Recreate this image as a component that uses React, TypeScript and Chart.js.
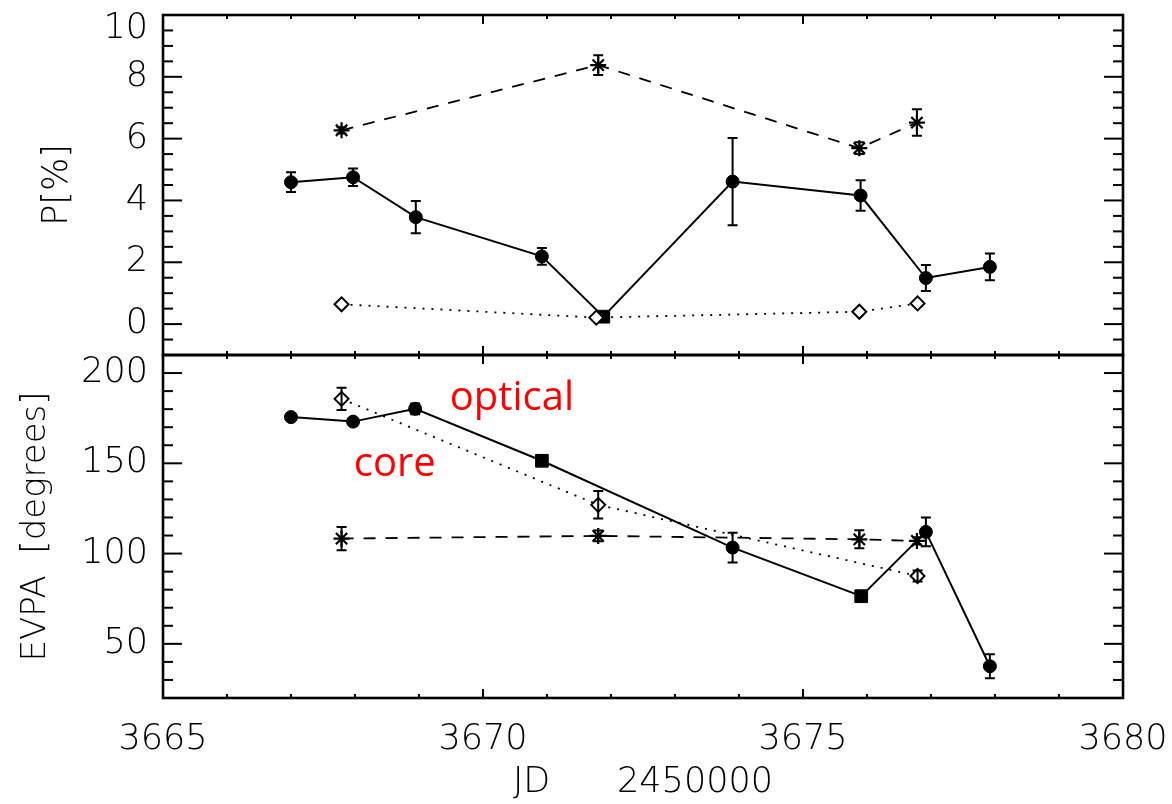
import React, { useEffect, useRef } from "react";
import { Chart, registerables } from "chart.js";

Chart.register(...registerables);

// ---------- axis definitions ----------
const xMin = 3665;
const xMax = 3680;
const xMajorTicks = [3665, 3670, 3675, 3680];
const pMin = -1;
const pMax = 10;
const pMajorTicks = [0, 2, 4, 6, 8, 10];
const evpaMin = 20;
const evpaMax = 210;
const evpaMajorTicks = [50, 100, 150, 200];

// ---------- top panel: P [%] ----------
const optPJD = [3667.0, 3667.97, 3668.95, 3670.92, 3671.88, 3673.9, 3675.9, 3676.92, 3677.92];
const optP = [4.59, 4.75, 3.46, 2.19, 0.24, 4.61, 4.16, 1.49, 1.85];
const optPErr = [0.32, 0.28, 0.52, 0.27, 0, 1.41, 0.49, 0.42, 0.43];
const optPStyle = ["circle", "circle", "circle", "circle", "rect", "circle", "circle", "circle", "circle"];

const jetPJD = [3667.79, 3671.8, 3675.88, 3676.78];
const jetP = [6.27, 8.38, 5.69, 6.52];
const jetPErr = [0.1, 0.32, 0.19, 0.43];

const corePJD = [3667.79, 3671.77, 3675.88, 3676.79];
const coreP = [0.64, 0.21, 0.4, 0.67];
const corePErr = [0, 0, 0, 0];

// ---------- bottom panel: EVPA [degrees] ----------
const optEJD = [3667.0, 3667.97, 3668.94, 3670.92, 3673.9, 3675.91, 3676.92, 3677.92];
const optE = [175.6, 173.1, 180.2, 151.4, 103.3, 76.4, 112.0, 37.6];
const optEErr = [0, 0, 3, 0, 8.3, 0, 8, 6.7];
const optEStyle = ["circle", "circle", "circle", "rect", "circle", "rect", "circle", "circle"];

const jetEJD = [3667.79, 3671.8, 3675.88, 3676.78];
const jetE = [108.3, 109.8, 107.9, 107.0];
const jetEErr = [6.4, 3, 5, 2];

const coreEJD = [3667.79, 3671.8, 3676.79];
const coreE = [185.7, 127.0, 87.6];
const coreEErr = [6.2, 7.6, 3];

// annotation labels (data coordinates of the bottom panel)
const notes = [
  { text: "optical", x: 3669.48, y: 179.6 },
  { text: "core", x: 3667.98, y: 142.9 },
];

const TICK_FONT = "'DejaVu Sans', sans-serif";

function pts(xs: number[], ys: number[]) {
  return xs.map((x, i) => ({ x, y: ys[i] }));
}

const frameTicksPlugin = {
  id: "frameTicks",
  afterDraw(chart: any, _args: any, opts: any) {
    const { ctx, chartArea: a } = chart;
    const xs = chart.scales.x;
    const ys = chart.scales.y;
    ctx.save();
    ctx.strokeStyle = "#000";
    ctx.lineCap = "butt";
    ctx.lineWidth = 2;
    const seg = (x1: number, y1: number, x2: number, y2: number) => {
      ctx.beginPath();
      ctx.moveTo(x1, y1);
      ctx.lineTo(x2, y2);
      ctx.stroke();
    };
    xs.ticks.forEach((t: any) => {
      const px = xs.getPixelForValue(t.value);
      const len = opts.xMajor.includes(t.value) ? 9 : 4;
      seg(px, a.top, px, a.top + len);
      seg(px, a.bottom, px, a.bottom - len);
    });
    ys.ticks.forEach((t: any) => {
      const py = ys.getPixelForValue(t.value);
      const len = opts.yMajor.includes(t.value) ? 19 : 10;
      seg(a.left, py, a.left + len, py);
      seg(a.right, py, a.right - len, py);
    });
    ctx.lineWidth = 2.6;
    ctx.strokeRect(a.left, a.top, a.right - a.left, a.bottom - a.top);
    ctx.restore();
  },
};

const errorBarPlugin = {
  id: "errorBars",
  afterDatasetsDraw(chart: any) {
    const { ctx } = chart;
    const xs = chart.scales.x;
    const ys = chart.scales.y;
    ctx.save();
    ctx.strokeStyle = "#000";
    ctx.lineWidth = 2;
    chart.data.datasets.forEach((ds: any) => {
      if (!ds.errors) return;
      ds.data.forEach((p: any, i: number) => {
        const e = ds.errors[i];
        if (!e) return;
        const px = xs.getPixelForValue(p.x);
        const y1 = ys.getPixelForValue(p.y + e);
        const y2 = ys.getPixelForValue(p.y - e);
        ctx.beginPath();
        ctx.moveTo(px, y1);
        ctx.lineTo(px, y2);
        ctx.moveTo(px - 5, y1);
        ctx.lineTo(px + 5, y1);
        ctx.moveTo(px - 5, y2);
        ctx.lineTo(px + 5, y2);
        ctx.stroke();
      });
    });
    ctx.restore();
  },
};

const notesPlugin = {
  id: "notes",
  afterDraw(chart: any, _args: any, opts: any) {
    if (!opts || !opts.items) return;
    const { ctx } = chart;
    const xs = chart.scales.x;
    const ys = chart.scales.y;
    ctx.save();
    ctx.fillStyle = "#ff0000";
    ctx.font = "40px 'Open Sans', sans-serif";
    ctx.textAlign = "left";
    ctx.textBaseline = "alphabetic";
    opts.items.forEach((n: any) => {
      ctx.fillText(n.text, xs.getPixelForValue(n.x), ys.getPixelForValue(n.y));
    });
    ctx.restore();
  },
};

function makeDatasets(
  opt: { x: number[]; y: number[]; err: number[]; style: string[] },
  jet: { x: number[]; y: number[]; err: number[] },
  core: { x: number[]; y: number[]; err: number[] }
) {
  return [
    {
      label: "core",
      data: pts(core.x, core.y),
      errors: core.err,
      borderColor: "#000",
      borderWidth: 1.8,
      borderDash: [2, 7],
      pointStyle: "rectRot",
      pointRadius: 7,
      pointBorderWidth: 2,
      pointBackgroundColor: "#fff",
      pointBorderColor: "#000",
      fill: false,
      tension: 0,
    },
    {
      label: "jet",
      data: pts(jet.x, jet.y),
      errors: jet.err,
      borderColor: "#000",
      borderWidth: 1.8,
      borderDash: [12, 10],
      pointStyle: "star",
      pointRadius: 8,
      pointBorderWidth: 2.2,
      pointBackgroundColor: "#000",
      pointBorderColor: "#000",
      fill: false,
      tension: 0,
    },
    {
      label: "optical",
      data: pts(opt.x, opt.y),
      errors: opt.err,
      borderColor: "#000",
      borderWidth: 2,
      pointStyle: opt.style,
      pointRadius: opt.style.map((s) => (s === "rect" ? 9 : 6.5)),
      pointBorderWidth: 1,
      pointBackgroundColor: "#000",
      pointBorderColor: "#000",
      fill: false,
      tension: 0,
    },
  ];
}

function Panel(props: { kind: "top" | "bottom" }) {
  const ref = useRef<HTMLCanvasElement | null>(null);
  const top = props.kind === "top";
  const height = top ? 357 : 451;

  useEffect(() => {
    if (!ref.current) return;
    const datasets = top
      ? makeDatasets(
          { x: optPJD, y: optP, err: optPErr, style: optPStyle },
          { x: jetPJD, y: jetP, err: jetPErr },
          { x: corePJD, y: coreP, err: corePErr }
        )
      : makeDatasets(
          { x: optEJD, y: optE, err: optEErr, style: optEStyle },
          { x: jetEJD, y: jetE, err: jetEErr },
          { x: coreEJD, y: coreE, err: coreEErr }
        );

    const yMajor = top ? pMajorTicks : evpaMajorTicks;

    const chart = new Chart(ref.current, {
      type: "line",
      data: { datasets: datasets as any },
      plugins: [errorBarPlugin, frameTicksPlugin, notesPlugin],
      options: {
        animation: false,
        responsive: false,
        devicePixelRatio: 1,
        layout: {
          autoPadding: false,
          padding: { left: 0, right: 49, top: top ? 15 : 2, bottom: top ? 2 : 0 },
        },
        plugins: {
          legend: { display: false },
          tooltip: { enabled: false },
          frameTicks: { xMajor: xMajorTicks, yMajor },
          notes: { items: top ? [] : notes },
        } as any,
        scales: {
          x: {
            type: "linear",
            min: xMin,
            max: xMax,
            grid: { display: false, drawTicks: false },
            border: { display: false },
            ticks: {
              display: !top,
              stepSize: 1,
              autoSkip: false,
              maxRotation: 0,
              minRotation: 0,
              padding: 21,
              color: "#000",
              font: { family: TICK_FONT, size: 35, weight: 200 as any, lineHeight: 1.2 },
              callback: (v: any) => (xMajorTicks.includes(Number(v)) ? String(v) : ""),
            },
            title: {
              display: !top,
              text: "JD      2450000",
              color: "#000",
              font: { family: TICK_FONT, size: 35, weight: 200 as any, lineHeight: 1.2 },
              padding: { top: 0, bottom: 0 },
            },
            afterFit: (s: any) => {
              s.height = top ? 0 : 106;
              s.paddingLeft = 0;
              s.paddingRight = 0;
              s.paddingTop = 0;
              s.paddingBottom = 0;
            },
          },
          y: {
            type: "linear",
            min: top ? pMin : evpaMin,
            max: top ? pMax : evpaMax,
            grid: { display: false, drawTicks: false },
            border: { display: false },
            ticks: {
              stepSize: top ? 0.5 : 10,
              autoSkip: false,
              padding: 15,
              color: "#000",
              font: { family: TICK_FONT, size: 35, weight: 200 as any, lineHeight: top ? 0.8 : 1.2 },
              callback: (v: any) => {
                const n = Number(v);
                if (!yMajor.includes(n)) return "";
                if (top && n === pMax) return ["", String(n)];
                return String(n);
              },
            },
            title: {
              display: true,
              text: top ? "P[%]" : "EVPA  [degrees]",
              color: "#000",
              font: { family: TICK_FONT, size: top ? 35 : 34, weight: 200 as any, lineHeight: 1.2 },
              padding: { top: top ? 37 : 16, bottom: 0 },
            },
            afterFit: (s: any) => {
              s.width = 163;
              s.paddingLeft = 0;
              s.paddingRight = 0;
              s.paddingTop = 0;
              s.paddingBottom = 0;
            },
          },
        },
      },
    });
    return () => chart.destroy();
  }, [top]);

  return (
    <canvas
      ref={ref}
      width={1172}
      height={height}
      style={{
        position: "absolute",
        left: 0,
        top: top ? 0 : 353,
        width: 1172,
        height,
        display: "block",
      }}
    />
  );
}

export default function App() {
  return (
    <div
      style={{
        position: "fixed",
        left: 0,
        top: 0,
        width: 1172,
        height: 804,
        background: "#fff",
        overflow: "hidden",
      }}
    >
      <Panel kind="bottom" />
      <Panel kind="top" />
    </div>
  );
}
